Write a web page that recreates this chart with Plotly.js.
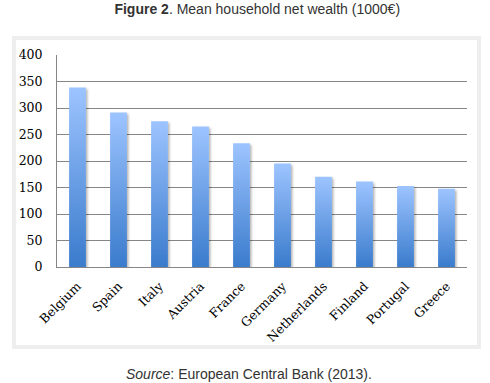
<!DOCTYPE html>
<html>
<head>
<meta charset="utf-8">
<script src="https://cdn.plot.ly/plotly-3.0.1.min.js"></script>
<style>
html,body{margin:0;padding:0;background:#fff;}
#wrap{position:relative;width:490px;height:383px;}
#frame{position:absolute;left:12px;top:36px;width:461px;height:305px;border:4px solid #eeeeee;}
#chart{position:absolute;left:0;top:0;width:490px;height:383px;}
</style>
</head>
<body>
<div id="wrap"><div id="frame"></div><div id="chart"></div></div>
<script>
const countries = ["Belgium","Spain","Italy","Austria","France","Germany","Netherlands","Finland","Portugal","Greece"];
const wealth = [338.6, 291.4, 275.2, 265.0, 233.4, 195.2, 170.2, 161.5, 152.9, 147.8];
const yTicks = [0,50,100,150,200,250,300,350,400];

const trace = {
  type: 'bar', x: countries, y: wealth,
  marker: {color: '#6a9fe6', line: {width: 0}},
  width: 0.41, hoverinfo: 'none'
};
const layout = {
  width: 490, height: 383,
  paper_bgcolor: 'rgba(0,0,0,0)', plot_bgcolor: 'rgba(0,0,0,0)',
  margin: {l: 57, r: 23, t: 55, b: 116, pad: 0},
  showlegend: false,
  title: {
    text: '<b>Figure 2</b>. Mean household net wealth (1000€)',
    font: {family: 'Liberation Sans, Arial, sans-serif', size: 14, color: '#333333'},
    x: 0.525, xanchor: 'center', y: 1, yref: 'container', yanchor: 'top', pad: {t: 4}
  },
  xaxis: {
    type: 'category', showgrid: false, zeroline: false,
    showline: true, linecolor: '#868686', linewidth: 1,
    ticks: '', tickangle: -45, ticklabelstandoff: 6,
    tickfont: {family: 'DejaVu Serif, serif', size: 12.5, color: '#000'}
  },
  yaxis: {
    range: [0, 400], tickvals: yTicks, ticktext: yTicks.map(String),
    showgrid: true, gridcolor: '#868686', gridwidth: 1, zeroline: false,
    showline: true, linecolor: '#868686', linewidth: 1, ticks: '',
    ticklabelstandoff: 11,
    tickfont: {family: 'DejaVu Serif, serif', size: 12.5, color: '#000'}
  },
  annotations: [{
    xref: 'paper', yref: 'paper', x: 0.468, y: -0.505, xanchor: 'center', yanchor: 'middle',
    showarrow: false,
    text: '<i>Source</i>: European Central Bank (2013).',
    font: {family: 'Liberation Sans, Arial, sans-serif', size: 14, color: '#333333'}
  }]
};
Plotly.newPlot('chart', [trace], layout, {displayModeBar: false, staticPlot: true}).then(gd => {
  const svg = gd.querySelector('svg.main-svg');
  const ns = 'http://www.w3.org/2000/svg';
  let defs = svg.querySelector('defs');
  if (!defs) { defs = document.createElementNS(ns, 'defs'); svg.insertBefore(defs, svg.firstChild); }
  defs.insertAdjacentHTML('beforeend',
    '<linearGradient id="barGrad" x1="0" y1="0" x2="0" y2="1">' +
    '<stop offset="0" stop-color="#9dc4ff"/><stop offset="1" stop-color="#3a7bcc"/></linearGradient>' +
    '<filter id="barShadow" x="-30%" y="-10%" width="160%" height="130%">' +
    '<feDropShadow dx="1.5" dy="1.5" stdDeviation="1.2" flood-color="#000" flood-opacity="0.3"/></filter>');
  gd.querySelectorAll('.bars .point path').forEach(p => {
    p.style.fill = 'url(#barGrad)';
    p.setAttribute('filter', 'url(#barShadow)');
  });
});
</script>
</body>
</html>
